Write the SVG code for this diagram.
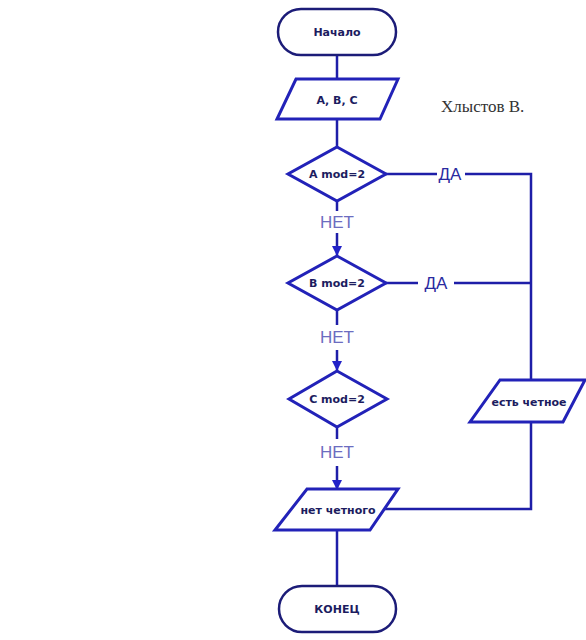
<svg xmlns="http://www.w3.org/2000/svg" width="586" height="640" viewBox="0 0 586 640">
<defs>
<style>
.term{fill:#ffffff;stroke:#1c1c78;stroke-width:2.5}
.shape{fill:#ffffff;stroke:#2222b8;stroke-width:3}
.line{fill:none;stroke:#1e1ea8;stroke-width:2.5}
.t{font-family:"DejaVu Sans","Liberation Sans",sans-serif;font-size:11px;font-weight:bold;fill:#1c1c60;text-anchor:middle;dominant-baseline:central}
.no{font-family:"Liberation Sans",Arial,sans-serif;font-size:17px;fill:#6c6cc0;text-anchor:middle;dominant-baseline:central}
.yes{font-family:"Liberation Sans",Arial,sans-serif;font-size:17px;fill:#2a2aa0;text-anchor:middle;dominant-baseline:central}
</style>
<marker id="arr" markerWidth="10" markerHeight="10" refX="9" refY="5" orient="auto" markerUnits="userSpaceOnUse">
<path d="M0,0 L10,5 L0,10 Z" fill="#2222c8"/>
</marker>
</defs>
<rect width="586" height="640" fill="#ffffff"/>
<g id="connectors">
<line class="line" x1="337" y1="55" x2="337" y2="79"/>
<line class="line" x1="337" y1="119" x2="337" y2="147"/>
<line class="line" x1="337" y1="201" x2="337" y2="211"/>
<line class="line" x1="337" y1="233" x2="337" y2="255" marker-end="url(#arr)"/>
<line class="line" x1="337" y1="310" x2="337" y2="325"/>
<line class="line" x1="337" y1="350" x2="337" y2="370" marker-end="url(#arr)"/>
<line class="line" x1="337" y1="427" x2="337" y2="439"/>
<line class="line" x1="337" y1="466" x2="337" y2="489" marker-end="url(#arr)"/>
<line class="line" x1="337" y1="530" x2="337" y2="586"/>
<polyline class="line" points="386,174 437,174"/>
<polyline class="line" points="465,174 531,174 531,380"/>
<polyline class="line" points="386,283 418,283"/>
<polyline class="line" points="454,283 531,283"/>
<polyline class="line" points="531,422 531,509 385,509"/>
<text class="yes" x="450" y="174">ДА</text>
<text class="yes" x="436" y="283">ДА</text>
<text class="no" x="337" y="222">НЕТ</text>
<text class="no" x="337" y="337">НЕТ</text>
<text class="no" x="337" y="452">НЕТ</text>
</g>
<g id="start">
<rect class="term" x="278" y="9" width="118" height="46" rx="23"/>
<text class="t" x="337" y="32">Начало</text>
</g>
<g id="input">
<polygon class="shape" points="296,79 398,79 380,119 277,119"/>
<text class="t" x="337" y="100">A, B, C</text>
</g>
<g id="condA">
<polygon class="shape" points="337,147 386,174 337,201 288,174"/>
<text class="t" x="337" y="174">A mod=2</text>
</g>
<g id="condB">
<polygon class="shape" points="337,256 386,283 337,310 288,283"/>
<text class="t" x="337" y="283">B mod=2</text>
</g>
<g id="condC">
<polygon class="shape" points="337,371 387,399 337,427 289,399"/>
<text class="t" x="337" y="399">C mod=2</text>
</g>
<g id="even">
<polygon class="shape" points="500,380 585,380 563,422 470,422"/>
<text class="t" x="529" y="402">есть четное</text>
</g>
<g id="noeven">
<polygon class="shape" points="307,489 398,489 370,530 275,530"/>
<text class="t" x="338" y="510">нет четного</text>
</g>
<g id="end">
<rect class="term" x="279" y="586" width="117" height="46" rx="23"/>
<text class="t" x="337" y="609">КОНЕЦ</text>
</g>
<g id="author">
<text x="441" y="112" font-family="'Liberation Serif','Times New Roman',serif" font-size="17" fill="#333333">Хлыстов В.</text>
</g>
</svg>
